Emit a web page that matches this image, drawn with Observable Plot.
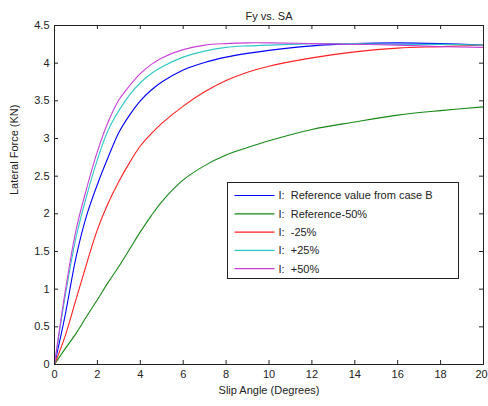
<!DOCTYPE html>
<html>
<head>
<meta charset="utf-8">
<script src="https://cdn.jsdelivr.net/npm/d3@7"></script>
<script src="https://cdn.jsdelivr.net/npm/@observablehq/plot@0.6"></script>
<style>
  html, body { margin: 0; padding: 0; background: #fff; }
  #chart svg { display: block; }
</style>
</head>
<body>
<div id="chart"></div>
<script>
// Slip angle samples (degrees)
const slipAngle = [0, 0.5, 1, 1.5, 2, 2.5, 3, 3.5, 4, 4.5, 5, 6, 7, 8, 9, 10, 12, 14, 16, 18, 20];

// Lateral force (kN) for each inertia case
const fyRef        = [0, 0.66, 1.42, 1.98, 2.39, 2.75, 3.08, 3.31, 3.50, 3.64, 3.75, 3.91, 4.01, 4.08, 4.13, 4.17, 4.23, 4.26, 4.27, 4.26, 4.24];
const fyRefMinus50 = [0, 0.21, 0.41, 0.64, 0.86, 1.09, 1.30, 1.53, 1.76, 1.97, 2.16, 2.45, 2.64, 2.78, 2.88, 2.97, 3.12, 3.22, 3.31, 3.37, 3.42];
const fyMinus25    = [0, 0.38, 0.86, 1.34, 1.79, 2.14, 2.43, 2.68, 2.90, 3.06, 3.20, 3.43, 3.62, 3.77, 3.88, 3.96, 4.07, 4.15, 4.20, 4.22, 4.24];
const fyPlus25     = [0, 0.91, 1.68, 2.24, 2.72, 3.11, 3.37, 3.58, 3.74, 3.86, 3.95, 4.08, 4.16, 4.21, 4.23, 4.24, 4.26, 4.26, 4.25, 4.25, 4.24];
const fyPlus50     = [0, 0.97, 1.78, 2.34, 2.83, 3.22, 3.51, 3.70, 3.86, 3.98, 4.07, 4.18, 4.24, 4.26, 4.27, 4.27, 4.26, 4.25, 4.24, 4.22, 4.21];

const seriesNames = ["I: Reference value from case B", "I: Reference-50%", "I: -25%", "I: +25%", "I: +50%"];
const seriesValues = [fyRef, fyRefMinus50, fyMinus25, fyPlus25, fyPlus50];
const seriesColors = ["#0000ff", "#168a16", "#ff2020", "#30c8c8", "#c840d8"];

const xTicks = [0, 2, 4, 6, 8, 10, 12, 14, 16, 18, 20];
const yTicks = [0, 0.5, 1, 1.5, 2, 2.5, 3, 3.5, 4, 4.5];

const titleText = "Fy vs. SA";
const xLabel = "Slip Angle (Degrees)";
const yLabel = "Lateral Force (KN)";

const rows = seriesNames.flatMap((name, i) =>
  slipAngle.map((a, j) => ({series: name, angle: a, force: seriesValues[i][j]}))
);

const font = "'Liberation Sans', Arial, Helvetica, sans-serif";

const chart = Plot.plot({
  width: 488,
  height: 406,
  marginLeft: 54,
  marginRight: 5,
  marginTop: 25,
  marginBottom: 42,
  style: {fontFamily: font, fontSize: "11px", color: "#222", background: "#fff"},
  x: {domain: [0, 20]},
  y: {domain: [0, 4.5]},
  color: {domain: seriesNames, range: seriesColors},
  marks: [
    // Tick labels (the last x label hugs the right edge)
    Plot.axisX({ticks: xTicks.slice(0, -1), tickSize: 0, tickPadding: 6, label: null, tickFormat: d => String(d), fontSize: 11}),
    Plot.axisX({ticks: xTicks.slice(-1), tickSize: 0, tickPadding: 6, label: null, tickFormat: d => String(d), fontSize: 11, dx: -2}),
    Plot.axisY({ticks: yTicks, tickSize: 0, tickPadding: 5, label: null, tickFormat: d => String(d), fontSize: 11}),
    // Inward ticks on all four sides
    Plot.tickX(xTicks, {x: d => d, insetTop: 335, stroke: "#222"}),
    Plot.tickX(xTicks, {x: d => d, insetBottom: 335, stroke: "#222"}),
    Plot.tickY(yTicks, {y: d => d, insetRight: 425, stroke: "#222"}),
    Plot.tickY(yTicks, {y: d => d, insetLeft: 425, stroke: "#222"}),
    // Curves
    Plot.line(rows, {x: "angle", y: "force", z: "series", stroke: "series", strokeWidth: 1.1, curve: "catmull-rom"}),
    Plot.frame({stroke: "#222"}),
    // Title and axis titles
    Plot.text([titleText], {frameAnchor: "top", dy: -13, text: d => d, fontSize: 11, fill: "#222"}),
    Plot.text([xLabel], {frameAnchor: "bottom", dy: 29, text: d => d, fontSize: 11, fill: "#222"}),
    Plot.text([yLabel], {frameAnchor: "left", dx: -40, rotate: -90, text: d => d, fontSize: 11, fill: "#222"})
  ]
});

document.getElementById("chart").append(chart);

// Boxed legend inside the plot area
const svg = d3.select(chart);
const legend = svg.append("g").attr("transform", "translate(227.5,182.5)");
legend.append("rect")
  .attr("width", 231).attr("height", 96)
  .attr("fill", "#fff").attr("stroke", "#222");
seriesNames.forEach((name, i) => {
  const cy = 13 + i * 18.3;
  legend.append("line")
    .attr("x1", 7).attr("x2", 47).attr("y1", cy).attr("y2", cy)
    .attr("stroke", seriesColors[i]).attr("stroke-width", 1.2);
  legend.append("text")
    .attr("x", 51).attr("y", cy).attr("dy", "0.35em")
    .attr("text-anchor", "start")
    .attr("font-family", font).attr("font-size", 11).attr("fill", "#222")
    .style("white-space", "pre")
    .text(name.replace("I: ", "I:  "));
});
</script>
</body>
</html>
